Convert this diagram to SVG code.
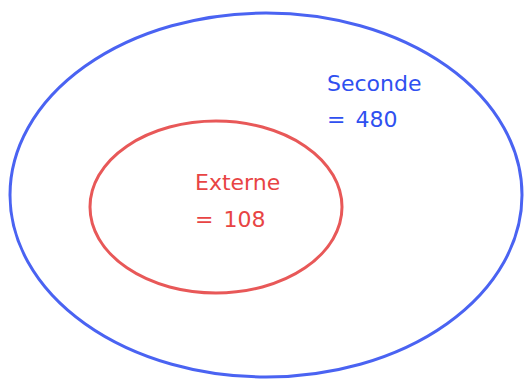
<svg xmlns="http://www.w3.org/2000/svg" width="524" height="379" viewBox="0 0 524 379">
<style>
.set{fill:none;stroke-width:3}
.lbl{font-family:"DejaVu Sans",sans-serif;font-size:22px;word-spacing:3px}
</style>
<rect width="524" height="379" fill="#fff"/>
<g id="seconde">
<ellipse class="set" cx="266" cy="195" rx="256" ry="182" stroke="#4a63f2"/>
<text class="lbl" fill="#2f50f0"><tspan x="327" y="91">Seconde</tspan><tspan x="327" y="127">= 480</tspan></text>
</g>
<g id="externe">
<ellipse class="set" cx="216" cy="207" rx="126" ry="86" stroke="#e85858"/>
<text class="lbl" fill="#e84444"><tspan x="195" y="190">Externe</tspan><tspan x="195" y="227">= 108</tspan></text>
</g>
<g id="connectors"/>
</svg>
